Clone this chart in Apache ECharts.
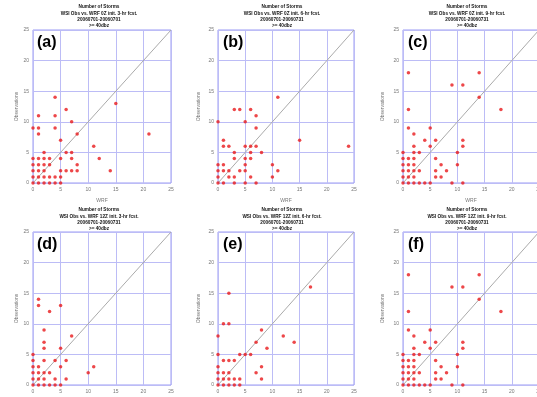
<!DOCTYPE html>
<html><head><meta charset="utf-8">
<script src="https://cdn.jsdelivr.net/npm/echarts@6/dist/echarts.min.js"></script>
<style>html,body{margin:0;padding:0;background:#fff}#c{width:537px;height:397px}</style>
</head><body><div id="c"></div>
<script>
// Data (x = WRF, y = Observations)
const panelA = [[0,9],[1,9],[4,9],[1,11],[1,8],[4,14],[4,11],[6,12],[7,10],[8,8],[5,7],[15,13],[21,8],[11,6],[12,4],[14,2],
  [0,4],[0,3],[0,2],[0,1],[0,0],[1,4],[1,3],[1,2],[1,1],[1,0],[2,5],[2,4],[2,3],[2,2],[2,1],[2,0],
  [3,4],[3,3],[3,1],[3,0],[4,1],[4,0],[5,4],[5,2],[5,1],[5,0],[6,5],[6,2],[7,5],[7,4],[7,2],[8,3],[8,2]];
const panelB = [[0,10],[11,14],[3,12],[4,12],[6,12],[7,11],[7,9],[5,10],[15,7],[24,6],[1,7],[1,6],[2,6],[5,6],[6,6],[7,6],
  [3,5],[6,5],[8,5],[3,4],[5,4],[6,4],[10,3],[11,2],[10,1],[0,3],[0,2],[0,1],[0,0],[1,3],[1,2],[1,0],
  [2,2],[2,1],[3,1],[3,0],[4,2],[5,3],[5,2],[5,0],[6,1],[7,0]];
const panelC = [[1,18],[1,12],[1,9],[9,16],[11,16],[14,18],[14,14],[18,12],[2,8],[4,7],[6,7],[11,7],[2,6],[5,6],[11,6],[5,9],
  [0,5],[2,5],[3,5],[10,5],[0,4],[1,4],[2,4],[6,4],[0,3],[1,3],[2,3],[7,3],[10,3],
  [0,2],[1,2],[2,2],[3,2],[6,2],[8,2],[0,1],[1,1],[2,1],[6,1],[7,1],
  [0,0],[1,0],[2,0],[3,0],[4,0],[5,0],[9,0],[11,0]];
const panelD = [[1,14],[1,13],[3,12],[5,13],[2,9],[2,7],[2,6],[7,8],[5,6],[0,5],[0,4],[2,4],[4,4],[6,4],
  [0,3],[1,3],[5,3],[11,3],[0,2],[1,2],[2,2],[3,2],[10,2],[0,1],[1,1],[2,1],[4,1],[6,1],
  [0,0],[1,0],[2,0],[3,0],[4,0],[5,0]];
const panelE = [[2,15],[17,16],[1,10],[2,10],[0,8],[8,9],[12,8],[14,7],[7,7],[9,6],[0,5],[4,5],[5,5],[6,5],
  [1,4],[2,4],[3,4],[0,3],[8,3],[0,2],[1,2],[2,2],[7,2],[0,1],[1,1],[2,1],[3,1],[4,1],[8,1],
  [0,0],[1,0],[2,0],[3,0],[4,0]];
const panelF = panelC.slice();
const panels = [panelA, panelB, panelC, panelD, panelE, panelF];
const panelLetters = ['(a)','(b)','(c)','(d)','(e)','(f)'];
const initTimes = ['0Z','0Z','0Z','12Z','12Z','12Z'];
const fcstHours = ['3-hr','6-hr','9-hr','3-hr','6-hr','9-hr'];
const dateRange = ['20060701-20060701','20060701-20060731','20060701-20060731','20060701-20060731','20060701-20060731','20060701-20060731'];
const threshold = '>= 40dbz';
const axisTicks = [0,5,10,15,20,25];
const diagonal = [0,25];
const xName = 'WRF';
const yName = 'Observations';

// Layout
const cols = [{left:33,width:138,tc:99,lx:37,gap:13},{left:218,width:136,tc:282,lx:223,gap:17},{left:403,width:136,tc:467,lx:408,gap:18}];
const rows = [{top:30,tt:4,ly:35},{top:232,tt:207,ly:237}];

const grids=[],xAxes=[],yAxes=[],series=[],titles=[];
panels.forEach((pts,i)=>{
  const c = cols[i%3], r = rows[Math.floor(i/3)];
  grids.push({left:c.left,top:r.top,width:c.width,height:153,show:true,borderColor:'#9a9af4',borderWidth:1,
    containLabel:false,outerBoundsMode:'none'});
  const ax = {gridIndex:i,type:'value',min:axisTicks[0],max:axisTicks[axisTicks.length-1],interval:5,
    axisLine:{show:false},axisTick:{show:false},
    splitLine:{show:true,lineStyle:{color:'#bcbcf6',width:1}},
    axisLabel:{fontSize:5,color:'#777',fontFamily:'Liberation Sans',margin:4},
    nameLocation:'middle',nameTextStyle:{fontSize:5,color:'#777',fontFamily:'Liberation Sans'}};
  xAxes.push(Object.assign({},ax,{name:xName,nameGap:15}));
  yAxes.push(Object.assign({},ax,{name:yName,nameGap:c.gap}));
  series.push({type:'line',xAxisIndex:i,yAxisIndex:i,data:[[diagonal[0],diagonal[0]],[diagonal[1],diagonal[1]]],
    symbol:'none',lineStyle:{color:'#aaaaaa',width:1},silent:true,z:2});
  series.push({type:'scatter',xAxisIndex:i,yAxisIndex:i,data:pts,symbol:'circle',symbolSize:3.5,
    itemStyle:{color:'#e8191c'},z:3});
  titles.push({text:'Number of Storms\nWSI Obs vs. WRF '+initTimes[i]+' init. '+fcstHours[i]+' fcst.\n'+dateRange[i]+'\n'+threshold,
    left:c.tc,top:r.tt,textAlign:'center',padding:0,
    textStyle:{fontSize:4.7,fontWeight:'bold',color:'#111',lineHeight:6.2,fontFamily:'Liberation Sans'}});
  titles.push({text:panelLetters[i],left:c.lx,top:r.ly,padding:0,
    textStyle:{fontSize:16,fontWeight:'bold',color:'#000',fontFamily:'Liberation Sans'}});
});

const chart = echarts.init(document.getElementById('c'),null,{renderer:'canvas'});
chart.setOption({animation:false,backgroundColor:'#fff',title:titles,grid:grids,xAxis:xAxes,yAxis:yAxes,series:series});
</script></body></html>
